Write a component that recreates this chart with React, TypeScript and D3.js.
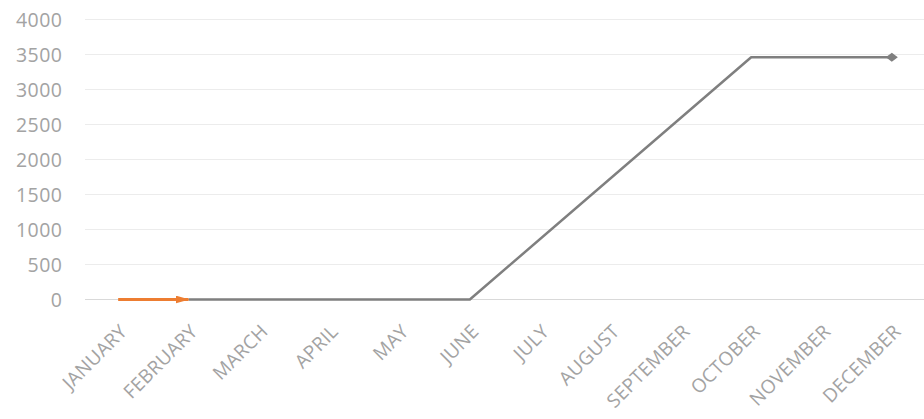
import React from "react";
import * as d3 from "d3";

const months = [
  "JANUARY", "FEBRUARY", "MARCH", "APRIL", "MAY", "JUNE",
  "JULY", "AUGUST", "SEPTEMBER", "OCTOBER", "NOVEMBER", "DECEMBER",
];
// Gray series: flat at zero Feb–Jun, then up to the October level, held through December
const seriesGray: (number | null)[] = [null, 0, 0, 0, 0, 0, null, null, null, 3460, null, 3460];
// Orange series: a short zero-level run from January to February
const seriesOrange: (number | null)[] = [0, 0, null, null, null, null, null, null, null, null, null, null];
const yTicks = [0, 500, 1000, 1500, 2000, 2500, 3000, 3500, 4000];

const W = 924;
const H = 419;

export default function App() {
  const x = d3.scaleBand<string>().domain(months).range([83, 927]);
  const cx = (m: string) => (x(m) as number) + x.bandwidth() / 2;
  const y = d3.scaleLinear().domain([0, 4000]).range([299.5, 19.5]);

  const line = d3
    .line<[string, number | null]>()
    .x((d) => cx(d[0]))
    .y((d) => y(d[1] as number));

  const pts = (s: (number | null)[]) =>
    months.map((m, i) => [m, s[i]] as [string, number | null]).filter((d) => d[1] !== null);

  const grayPts = pts(seriesGray);
  const orangePts = pts(seriesOrange);
  const last = grayPts[grayPts.length - 1];

  return (
    <svg
      width={W}
      height={H}
      style={{ position: "absolute", left: 0, top: 0, fontFamily: "Open Sans, sans-serif" }}
    >
      <defs>
        <marker
          id="arrowO"
          viewBox="0 0 14 8"
          refX="13"
          refY="4"
          markerWidth="14"
          markerHeight="8"
          orient="auto"
          markerUnits="userSpaceOnUse"
        >
          <path d="M0,0 L14,4 L0,8 Z" fill="#ED7D31" />
        </marker>
      </defs>
      {yTicks.map((t) => (
        <g key={t}>
          <line x1={85} x2={W} y1={y(t)} y2={y(t)} stroke={t === 0 ? "#d9d9d9" : "#ececec"} strokeWidth={1.2} />
          <text x={62.5} y={y(t)} dy="0.36em" textAnchor="end" fontSize={19.5} letterSpacing={0.5} fill="#a3a3a3">
            {t}
          </text>
        </g>
      ))}
      {months.map((m) => (
        <text
          key={m}
          transform={`translate(${cx(m) + 0.5},${323}) rotate(-45)`}
          textAnchor="end"
          dy="0.72em"
          fontSize={19}
          letterSpacing={0.3}
          fill="#a3a3a3"
        >
          {m}
        </text>
      ))}
      <path d={line(grayPts) || ""} fill="none" stroke="#7f7f7f" strokeWidth={2.5} strokeLinejoin="round" />
      <path
        d={line(orangePts) || ""}
        fill="none"
        stroke="#ED7D31"
        strokeWidth={3}
        markerEnd="url(#arrowO)"
      />
      <path
        d="M-6,0 L0,-4.5 L6,0 L0,4.5 Z"
        transform={`translate(${cx(last[0])},${y(last[1] as number)})`}
        fill="#7f7f7f"
      />
    </svg>
  );
}
